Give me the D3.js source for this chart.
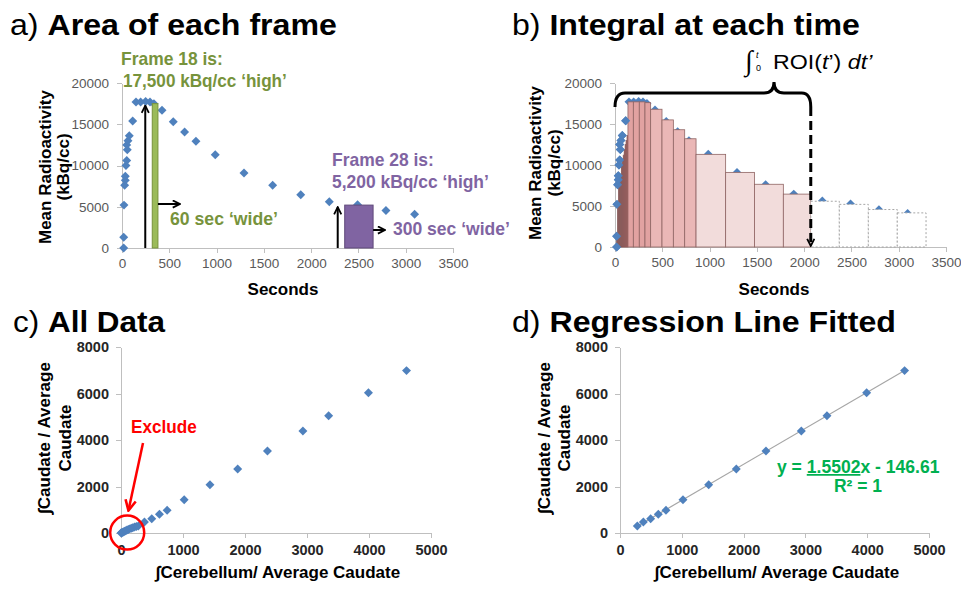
<!DOCTYPE html>
<html lang="en">
<head>
<meta charset="UTF-8">
<title>frame integral</title>
<style>
  body { margin: 0; background: #fff; }
  svg { display: block; font-family: "Liberation Sans", Arial, sans-serif; }
  .axis path, .axis line { fill: none; stroke: #bfbfbf; shape-rendering: crispEdges; }
  .axis text { font-family: "Liberation Sans", Arial, sans-serif; font-size: 13.5px; fill: #595959; }
  .axis.bold text { font-size: 14.5px; font-weight: bold; fill: #262626; }
  .title { font-size: 29px; fill: #000; white-space: pre; }
  .atitle { font-size: 17px; font-weight: bold; fill: #000; }
  .note { font-size: 17.5px; font-weight: bold; white-space: pre; }
</style>
</head>
<body>
<svg></svg>
<script src="https://cdn.jsdelivr.net/npm/d3@7"></script>
<script>
// ROI time activity curve: frame time (s) and mean radioactivity (kBq/cc)
var frameTime  = [18, 18, 21, 28, 35, 35, 42, 50, 56, 50, 63, 77, 113, 148, 197, 250, 296, 338, 423, 542, 662, 782, 986, 1290, 1593, 1890, 2192, 2491, 2791, 3094];
var frameValue = [0, 1300, 5200, 7600, 8200, 8700, 10000, 10600, 11900, 12500, 13000, 13600, 15400, 17700, 17700, 17750, 17700, 17500, 16700, 15300, 14050, 12950, 11300, 9100, 7600, 6450, 5600, 5250, 4550, 4100];

// panel b: frame boundaries (s) and the height of each frame's box
var barEdges = [7, 17, 27, 37, 47, 57, 67, 77, 87, 97, 107, 117, 127, 137, 194, 257, 317, 377, 497, 617, 737, 857, 1170, 1475, 1780, 2070, 2372, 2679, 2985, 3289];
var barValue = [300, 1300, 5200, 7600, 8200, 8700, 10000, 10600, 11200, 11900, 12500, 13000, 13600, 17700, 17700, 17700, 17600, 16800, 15500, 14300, 13200, 11300, 9100, 7650, 6450, 5580, 5200, 4570, 4160];
var integralEnd = 2070;

// panel a: highlighted frames
var hiFrame = ["18", "28"];
var hiStart = [320, 2355];
var hiEnd   = [380, 2655];
var hiValue = [17500, 5200];
var hiWidth = ["60", "300"];

var timeTicks = [0, 500, 1000, 1500, 2000, 2500, 3000, 3500];
var activityTicks = [0, 5000, 10000, 15000, 20000];

// panels c, d: integral of cerebellum vs integral of caudate (both / average caudate)
var cerebInt = [2, 8, 18, 30, 44, 60, 78, 97, 118, 140, 164, 190, 218, 248,
                280, 378, 496, 620, 744, 1019, 1435, 1882, 2362, 2934, 3349, 3991, 4605];
var caudInt  = [1, 7, 17, 32, 52, 75, 100, 126, 152, 178, 204, 230, 256, 280,
                301, 473, 616, 803, 975, 1434, 2079, 2753, 3527, 4387, 5046, 6036, 6985];
var nExcluded = 14;
var fitSlope = 1.5502, fitIntercept = -146.61;
var ratioXTicks = [0, 1000, 2000, 3000, 4000, 5000];
var ratioYTicks = [0, 2000, 4000, 6000, 8000];

var svg = d3.select("svg").attr("width", 961).attr("height", 613);
svg.append("rect").attr("width", 961).attr("height", 613).attr("fill", "#fff");

var blue = "#4f81bd", green = "#77933c", purple = "#8064a2";
var diamond = d3.symbol(d3.symbolSquare, 40);

var defs = svg.append("defs");
function marker(id, color, size, sw) {
  defs.append("marker").attr("id", id)
    .attr("viewBox", "0 0 10 10").attr("refX", 9).attr("refY", 5)
    .attr("markerWidth", size).attr("markerHeight", size)
    .attr("markerUnits", "userSpaceOnUse").attr("orient", "auto")
    .append("path").attr("d", "M1,1 L9,5 L1,9")
    .attr("fill", "none").attr("stroke", color).attr("stroke-width", sw)
    .attr("stroke-linejoin", "miter");
}
marker("arrK", "#000", 9, 2);
marker("arrR", "#ff0000", 13, 2);

function axes(g, x, y, xt, yt, bold) {
  g.append("g").attr("class", "axis" + (bold ? " bold" : ""))
    .attr("transform", "translate(0," + y.range()[0] + ")")
    .call(d3.axisBottom(x).tickValues(xt).tickSize(5).tickSizeOuter(0)
      .tickPadding(bold ? 7 : 5).tickFormat(d3.format("d")));
  g.append("g").attr("class", "axis" + (bold ? " bold" : ""))
    .attr("transform", "translate(" + x.range()[0] + ",0)")
    .call(d3.axisLeft(y).tickValues(yt).tickSize(5).tickSizeOuter(0)
      .tickPadding(bold ? 7 : 8).tickFormat(d3.format("d")));
}

// stretch a text horizontally so it spans the given width
function fit(sel, x, w) {
  var bw = sel.node().getBBox().width;
  sel.attr("transform", "translate(" + x + ",0) scale(" + (w / bw) + ",1) translate(" + (-x) + ",0)");
}

function title(x, y, tag, txt, w) {
  var t = svg.append("text").attr("class", "title").attr("x", x).attr("y", y);
  t.append("tspan").text(tag + " ");
  t.append("tspan").attr("font-weight", "bold").text(txt);
  fit(t, x, w);
}

function yTitle(cx, cy, lines, gap) {
  lines.forEach(function (s, i) {
    svg.append("text").attr("class", "atitle")
      .attr("transform", "translate(" + (cx + i * gap) + "," + cy + ") rotate(-90)")
      .attr("text-anchor", "middle").text(s);
  });
}

function xTitle(cx, y, s) {
  svg.append("text").attr("class", "atitle").attr("x", cx).attr("y", y)
    .attr("text-anchor", "middle").text(s);
}

function points(g, xs, ys, x, y) {
  g.selectAll(null).data(xs).enter().append("path")
    .attr("d", diamond).attr("fill", blue)
    .attr("transform", function (d, i) { return "translate(" + x(d) + "," + y(ys[i]) + ") rotate(45)"; });
}

// ---------------- a) Area of each frame ----------------
title(10, 35, "a)", "Area of each frame", 327);
var xa = d3.scaleLinear().domain([0, 3500]).range([122, 453]);
var ya = d3.scaleLinear().domain([0, 20000]).range([248, 83]);
var ga = svg.append("g");
axes(ga, xa, ya, timeTicks, activityTicks, false);
yTitle(51, 167, ["Mean Radioactivity", "(kBq/cc)"], 18);
xTitle(283, 295, "Seconds");
points(ga, frameTime, frameValue, xa, ya);

var hiFill = ["#9bbb59", purple], hiStroke = ["#77933c", "#5f497a"];
hiFrame.forEach(function (f, i) {
  var x0 = xa(hiStart[i]), x1 = xa(hiEnd[i]), top = ya(hiValue[i]);
  ga.append("rect").attr("x", x0).attr("y", top).attr("width", x1 - x0).attr("height", ya(0) - top)
    .attr("fill", hiFill[i]).attr("stroke", hiStroke[i]).attr("stroke-width", 1);
  // height arrow
  ga.append("line").attr("x1", x0 - 7).attr("x2", x0 - 7).attr("y1", ya(0)).attr("y2", top + 2)
    .attr("stroke", "#000").attr("stroke-width", 2).attr("marker-end", "url(#arrK)");
});
// width arrows
ga.append("line").attr("x1", xa(hiEnd[0])).attr("x2", xa(hiEnd[0]) + 22).attr("y1", 204).attr("y2", 204)
  .attr("stroke", "#000").attr("stroke-width", 2).attr("marker-end", "url(#arrK)");
ga.append("line").attr("x1", xa(hiEnd[1])).attr("x2", xa(hiEnd[1]) + 12).attr("y1", 230).attr("y2", 230)
  .attr("stroke", "#000").attr("stroke-width", 2).attr("marker-end", "url(#arrK)");

function note(x, y, color, s, w) {
  var t = svg.append("text").attr("class", "note").attr("x", x).attr("y", y).attr("fill", color).text(s);
  fit(t, x, w);
}
note(121, 65, green, "Frame " + hiFrame[0] + " is:", 102);
note(123, 87, green, d3.format(",")(hiValue[0]) + " kBq/cc \u2018high\u2019", 164);
note(170, 225, green, hiWidth[0] + " sec \u2018wide\u2019", 108);
note(332, 166, purple, "Frame " + hiFrame[1] + " is:", 102);
note(332, 188, purple, d3.format(",")(hiValue[1]) + " kBq/cc \u2018high\u2019", 157);
note(393, 235, purple, hiWidth[1] + " sec \u2018wide\u2019", 117);

// ---------------- b) Integral at each time ----------------
title(512, 35, "b)", "Integral at each time", 348);
var xb = d3.scaleLinear().domain([0, 3500]).range([615, 946]);
var yb = d3.scaleLinear().domain([0, 20000]).range([247, 83]);
var gb = svg.append("g");
axes(gb, xb, yb, timeTicks, activityTicks, false);
yTitle(541, 163, ["Mean Radioactivity", "(kBq/cc)"], 19);
xTitle(774, 295, "Seconds");
points(gb, frameTime, frameValue, xb, yb);

var nDark = barEdges.filter(function (e, i) { return i < barValue.length && barEdges[i + 1] - e <= 10; }).length;
var darkRamp = d3.interpolateRgb("#2e0707", "#b04845");
function barFill(i) {
  var s = barEdges[i], w = barEdges[i + 1] - s;
  if (s >= integralEnd) return "#fff";
  if (w <= 10) return darkRamp(i / (nDark - 1));
  if (w <= 90) return "#e1a2a1";
  if (w <= 200) return "#eab7b6";
  return "#f2dcdb";
}
gb.selectAll(".bar").data(barValue).enter().append("rect").attr("class", "bar")
  .attr("x", function (d, i) { return xb(barEdges[i]); })
  .attr("width", function (d, i) { return xb(barEdges[i + 1]) - xb(barEdges[i]); })
  .attr("y", function (d) { return yb(d); })
  .attr("height", function (d) { return yb(0) - yb(d); })
  .attr("fill", function (d, i) { return barFill(i); })
  .attr("stroke", function (d, i) { return barEdges[i] >= integralEnd ? "#a6a6a6" : "#8f6463"; })
  .attr("stroke-width", function (d, i) { return barEdges[i] >= integralEnd ? 1 : 0.8; })
  .attr("stroke-dasharray", function (d, i) { return barEdges[i] >= integralEnd ? "2,2" : null; });
// early frames sit in front of their narrow boxes
points(gb, frameTime.slice(0, nDark), frameValue.slice(0, nDark), xb, yb);

// brace over the integrated frames and dashed end marker
var bx0 = xb(0), bx1 = xb(integralEnd), bc = 774, by = 93;
gb.append("path")
  .attr("d", "M" + bx0 + "," + (by + 14) + " Q" + bx0 + "," + by + " " + (bx0 + 10) + "," + by +
    " H" + (bc - 10) + " Q" + bc + "," + by + " " + bc + "," + (by - 11) +
    " Q" + bc + "," + by + " " + (bc + 10) + "," + by +
    " H" + (bx1 - 9) + " Q" + bx1 + "," + by + " " + bx1 + "," + (by + 14))
  .attr("fill", "none").attr("stroke", "#000").attr("stroke-width", 3);
gb.append("line").attr("x1", bx1).attr("x2", bx1).attr("y1", by + 14).attr("y2", yb(0) - 1)
  .attr("stroke", "#000").attr("stroke-width", 3).attr("stroke-dasharray", "9,5")
  .attr("marker-end", "url(#arrK)");

svg.append("text").attr("x", 745).attr("y", 70).attr("font-size", 28)
  .attr("font-family", "DejaVu Sans").attr("font-weight", 200).text("\u222B");
svg.append("text").attr("x", 756).attr("y", 58).attr("font-size", 9).attr("font-style", "italic").text("t");
svg.append("text").attr("x", 756).attr("y", 71).attr("font-size", 9).text("0");
var roi = svg.append("text").attr("x", 773).attr("y", 69).attr("font-size", 20).style("white-space", "pre");
roi.append("tspan").text("ROI(");
roi.append("tspan").attr("font-style", "italic").text("t");
roi.append("tspan").text("\u2019) ");
roi.append("tspan").attr("font-style", "italic").text("dt\u2019");
fit(roi, 773, 100);

// ---------------- c) All Data ----------------
title(13, 332, "c)", "All Data", 153);
var xc = d3.scaleLinear().domain([0, 5000]).range([121, 431]);
var yc = d3.scaleLinear().domain([0, 8000]).range([533, 347]);
var gc = svg.append("g");
axes(gc, xc, yc, ratioXTicks, ratioYTicks, true);
yTitle(50, 438, ["\u222BCaudate / Average", "Caudate"], 21);
xTitle(278, 578, "\u222BCerebellum/ Average Caudate");
points(gc, cerebInt, caudInt, xc, yc);

gc.append("circle").attr("cx", xc(100)).attr("cy", yc(20)).attr("r", 17)
  .attr("fill", "none").attr("stroke", "#ff0000").attr("stroke-width", 2.5);
gc.append("line").attr("x1", 143).attr("y1", 443).attr("x2", xc(120)).attr("y2", yc(20) - 22)
  .attr("stroke", "#ff0000").attr("stroke-width", 2.5).attr("marker-end", "url(#arrR)");
note(131, 433, "#ff0000", "Exclude", 66);

// ---------------- d) Regression Line Fitted ----------------
title(512, 332, "d)", "Regression Line Fitted", 384);
var xd = d3.scaleLinear().domain([0, 5000]).range([620, 929]);
var yd = d3.scaleLinear().domain([0, 8000]).range([533, 347]);
var gd = svg.append("g");
axes(gd, xd, yd, ratioXTicks, ratioYTicks, true);
yTitle(550, 438, ["\u222BCaudate / Average", "Caudate"], 20);
xTitle(777, 578, "\u222BCerebellum/ Average Caudate");

var fitX = cerebInt.slice(nExcluded), fitY = caudInt.slice(nExcluded);
var lx = d3.extent(fitX);
gd.append("line")
  .attr("x1", xd(lx[0])).attr("y1", yd(fitSlope * lx[0] + fitIntercept))
  .attr("x2", xd(lx[1])).attr("y2", yd(fitSlope * lx[1] + fitIntercept))
  .attr("stroke", "#a6a6a6").attr("stroke-width", 1.2);
points(gd, fitX, fitY, xd, yd);

var eq = svg.append("text").attr("class", "note").attr("x", 777).attr("y", 473).attr("fill", "#00b050");
eq.append("tspan").text("y = ");
eq.append("tspan").attr("text-decoration", "underline").text(fitSlope.toFixed(4));
eq.append("tspan").text("x - " + Math.abs(fitIntercept).toFixed(2));
fit(eq, 777, 163);
svg.append("text").attr("class", "note").attr("x", 858).attr("y", 492).attr("fill", "#00b050")
  .attr("text-anchor", "middle").text("R\u00B2 = 1");
</script>
</body>
</html>
